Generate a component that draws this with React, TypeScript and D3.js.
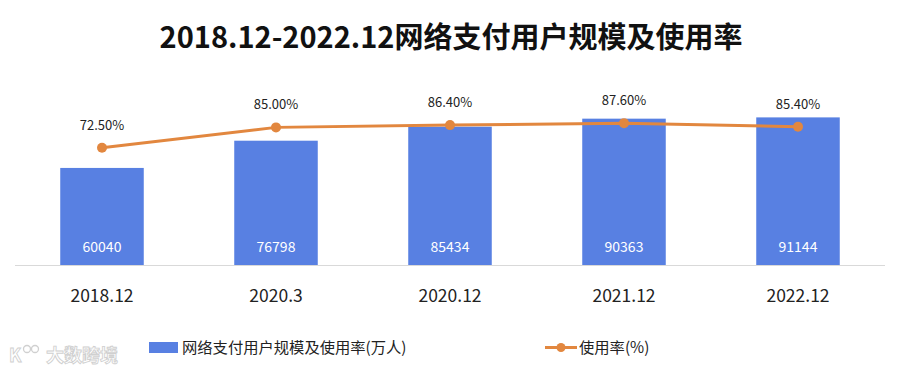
import React from "react";
import * as d3 from "d3";

const categories = ["2018.12", "2020.3", "2020.12", "2021.12", "2022.12"];
const users = [60040, 76798, 85434, 90363, 91144];
const rates = [72.5, 85.0, 86.4, 87.6, 85.4];
const title = "2018.12-2022.12网络支付用户规模及使用率";
const barLegend = "网络支付用户规模及使用率(万人)";
const lineLegend = "使用率(%)";

const W = 900;
const H = 376;
const FONT = "'Noto Sans CJK SC', 'Noto Sans', sans-serif";
const BLUE = "#5880e2";
const ORANGE = "#e2873f";

export default function App() {
  const x = d3.scaleBand<string>().domain(categories).range([15, 885]).paddingInner(0.52).paddingOuter(0.26);
  const yBar = d3.scaleLinear().domain([0, 100000]).range([265.5, 103]);
  const yRate = d3.scaleLinear().domain([0, 100]).range([265.5, 103]);
  const line = d3
    .line<number>()
    .x((_, i) => (x(categories[i]) as number) + x.bandwidth() / 2)
    .y((d) => yRate(d));

  return (
    <svg width={W} height={H} style={{ position: "absolute", left: 0, top: 0, background: "#fff" }} fontFamily={FONT}>
      <rect width={W} height={H} fill="#fff" />
      <text x={451} y={48} textAnchor="middle" fontSize={29} fontWeight={700} fill="#111">
        {title}
      </text>
      {categories.map((c, i) => (
        <g key={c}>
          <rect x={x(c)} y={yBar(users[i])} width={x.bandwidth()} height={yBar(0) - yBar(users[i])} fill={BLUE} />
          <text x={(x(c) as number) + x.bandwidth() / 2} y={251.5} textAnchor="middle" fontSize={14} fill="#fff">
            {users[i]}
          </text>
          <text x={(x(c) as number) + x.bandwidth() / 2} y={302} textAnchor="middle" fontSize={17.5} fill="#222">
            {c}
          </text>
        </g>
      ))}
      <line x1={15} x2={885} y1={yBar(0)} y2={yBar(0)} stroke="#d9d9d9" strokeWidth={1} />
      <path d={line(rates) || ""} fill="none" stroke={ORANGE} strokeWidth={3} />
      {rates.map((r, i) => {
        const cx = (x(categories[i]) as number) + x.bandwidth() / 2;
        return (
          <g key={i}>
            <circle cx={cx} cy={yRate(r)} r={5} fill={ORANGE} />
            <text x={cx} y={yRate(r) - 18} textAnchor="middle" fontSize={13} fill="#222">
              {r.toFixed(2) + "%"}
            </text>
          </g>
        );
      })}
      <g>
        <rect x={149} y={342} width={29} height={11} fill={BLUE} />
        <text x={182} y={353} fontSize={15.3} fill="#222">{barLegend}</text>
        <line x1={545} x2={577} y1={347.5} y2={347.5} stroke={ORANGE} strokeWidth={3} />
        <circle cx={561} cy={347.5} r={4.5} fill={ORANGE} />
        <text x={579} y={353} fontSize={15.3} fill="#222">{lineLegend}</text>
      </g>
      <g opacity={0.55} fill="none" stroke="#aaa" strokeWidth={1.3}>
        <text x={46} y={362} fontSize={18} fontWeight={700} fill="#fff" stroke="#aaa" strokeWidth={0.9}>大数跨境</text>
        <text x={9} y={362} fontSize={18} fontWeight={700} fill="#fff" stroke="#aaa" strokeWidth={0.9}>K</text>
        <circle cx={27} cy={349} r={3.5} />
        <circle cx={35} cy={349} r={3.5} />
      </g>
    </svg>
  );
}
